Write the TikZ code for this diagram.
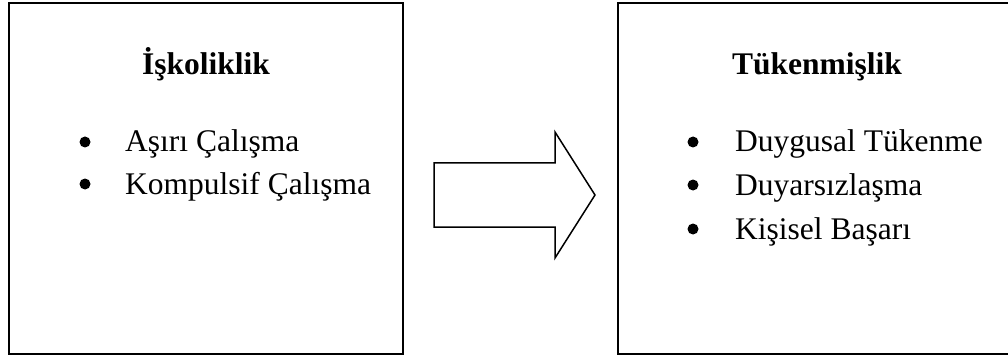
\documentclass[tikz,border=0pt]{standalone}
\usepackage{fontspec}
\setmainfont{Liberation Serif}
\begin{document}
\begin{tikzpicture}[x=1pt,y=-1pt,
  panel/.style={draw=black,line width=2pt,fill=none,inner sep=0pt},
  heading/.style={anchor=base,inner sep=0pt,font=\fontsize{31.5}{38}\selectfont\bfseries},
  item/.style={anchor=base west,inner sep=0pt,font=\fontsize{31.5}{38}\selectfont},
  dot/.style={circle,fill=black,inner sep=0pt,minimum size=11pt},
  bigarrow/.style={draw=black,line width=1.5pt,line join=miter,fill=white}]
\useasboundingbox (0,0) rectangle (1008,358);
% boxes
\draw[panel] (8.5,3) rectangle (403,354);
\draw[panel] (618,3) rectangle (1016,354);
% left box content
\node[heading] (t1) at (206,75) {İşkoliklik};
\node[dot] (b11) at (85,142) {};
\node[item] (i11) at (125,152) {Aşırı Çalışma};
\node[dot] (b12) at (85,184) {};
\node[item] (i12) at (125,194) {Kompulsif Çalışma};
% right box content
\node[heading] (t2) at (817,75) {Tükenmişlik};
\node[dot] (b21) at (693,142) {};
\node[item] (i21) at (735,152) {Duygusal Tükenme};
\node[dot] (b22) at (693,185) {};
\node[item] (i22) at (735,195) {Duyarsızlaşma};
\node[dot] (b23) at (693,229) {};
\node[item] (i23) at (735,239) {Kişisel Başarı};
% block arrow
\draw[bigarrow] (434,163) -- (555,163) -- (555,132) -- (595,195) -- (555,258) -- (555,227) -- (434,227) -- cycle;
\end{tikzpicture}
\end{document}
